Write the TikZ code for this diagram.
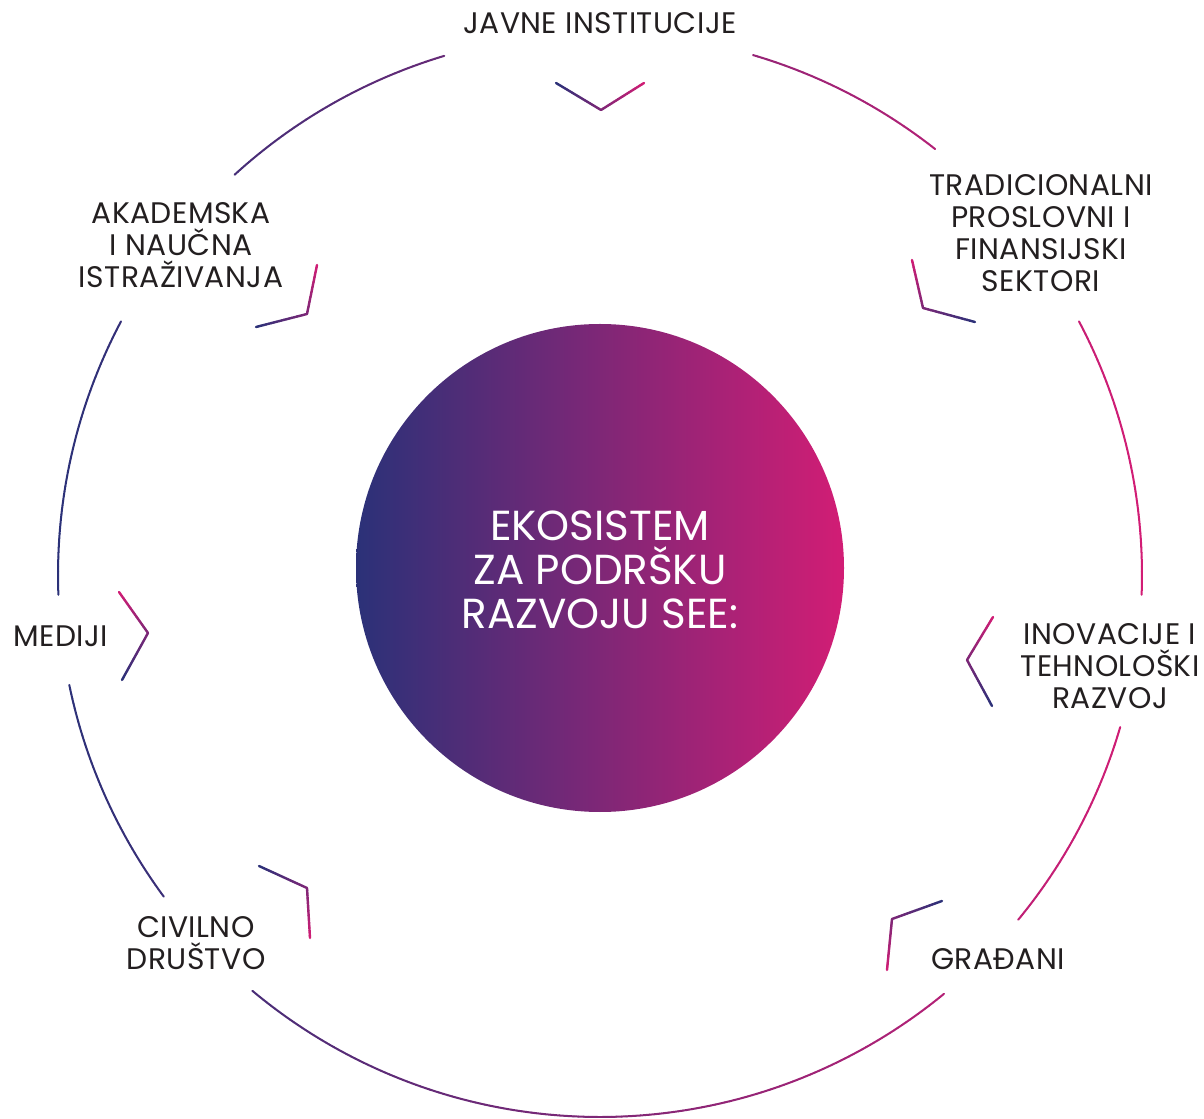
\documentclass[tikz,border=0pt]{standalone}
\usepackage{fontspec}
\setmainfont{Poppins}
\usetikzlibrary{calc}
\definecolor{blu}{HTML}{2B3178}
\definecolor{mag}{HTML}{D21D75}
\definecolor{txt}{HTML}{231F20}
\newcommand\gradarc[2]{%
  \pgfmathsetmacro\nseg{int(abs(#2-#1)*2)}%
  \foreach \i in {1,...,\nseg}{%
    \pgfmathsetmacro\aa{#1+(#2-#1)*(\i-1)/\nseg}%
    \pgfmathsetmacro\ab{#1+(#2-#1)*\i/\nseg}%
    \pgfmathsetmacro\tt{50*(1+cos((\aa+\ab)/2))}%
    \draw[ring, draw=mag!\tt!blu] (C) ++(\aa:542) arc[start angle=\aa, end angle=\ab, radius=542];
  }}
\newcommand\gradseg[4]{%
  \foreach \i in {1,...,20}{%
    \pgfmathsetmacro\tt{#3+(#4-#3)*(\i-0.5)/20}%
    \draw[chev, draw=mag!\tt!blu] ($(#1)!{(\i-1)/20}!(#2)$) -- ($(#1)!{\i/20}!(#2)$);
  }}
\newcommand\chevron[4]{% name prefix, mag end, corner, blue end
  \coordinate (#1m) at #2; \coordinate (#1c) at #3; \coordinate (#1b) at #4;
  \gradseg{#1m}{#1c}{100}{50}\gradseg{#1c}{#1b}{50}{0}}
\begin{document}
\begin{tikzpicture}[x=0.75pt,y=-0.75pt,
  ring/.style={line width=1.5pt, line cap=round},
  chev/.style={line width=1.8pt, line cap=round},
  lbl/.style={text=txt, font=\fontsize{22.3}{24}\selectfont\addfontfeatures{LetterSpace=1.5}, align=center, inner sep=0pt},
  ctr/.style={text=white, font=\fontsize{31.5}{33}\selectfont, align=center, inner sep=0pt}]
\useasboundingbox (0,0) rectangle (1204,1119);
% ring arcs (angles measured counter-clockwise, y up)
\begin{scope}[y=0.75pt]
\coordinate (C) at (600,-575);
\gradarc{106.7}{132.4}
\gradarc{152.1}{182.1}
\gradarc{191.7}{216.4}
\gradarc{230.1}{309.4}
\gradarc{320.5}{343.7}
\gradarc{-2.1}{27.9}
\gradarc{51.8}{73.6}
\end{scope}
% central circle
\shade[left color=blu, right color=mag] (600,568) circle[radius=244];
\node[ctr] (center) at (600,570) {EKOSISTEM\\ZA PODRŠKU\\RAZVOJU SEE:};
% chevrons
\chevron{t}{(644,83)}{(601,110)}{(556,83)}
\chevron{tr}{(912,260)}{(923,308)}{(975,322)}
\chevron{r}{(993,617)}{(967,660)}{(992,706)}
\chevron{br}{(887,970)}{(892,919)}{(942,901)}
\chevron{bl}{(310,938)}{(307,888)}{(259,866)}
\chevron{l}{(119,592)}{(148,633)}{(122,680)}
\chevron{tl}{(317,265)}{(307,314)}{(256,327)}
% labels
\node[lbl] (javne) at (600,23) {JAVNE INSTITUCIJE};
\node[lbl] (trad) at (1041,233) {TRADICIONALNI\\PROSLOVNI I\\FINANSIJSKI\\SEKTORI};
\node[lbl] (inov) at (1110,666) {INOVACIJE I\\TEHNOLOŠKI\\RAZVOJ};
\node[lbl] (gradj) at (998,959) {GRAĐANI};
\node[lbl] (civ) at (196,943) {CIVILNO\\DRUŠTVO};
\node[lbl] (med) at (61,636) {MEDIJI};
\node[lbl] (akad) at (181,245) {AKADEMSKA\\I NAUČNA\\ISTRAŽIVANJA};
\end{tikzpicture}
\end{document}
